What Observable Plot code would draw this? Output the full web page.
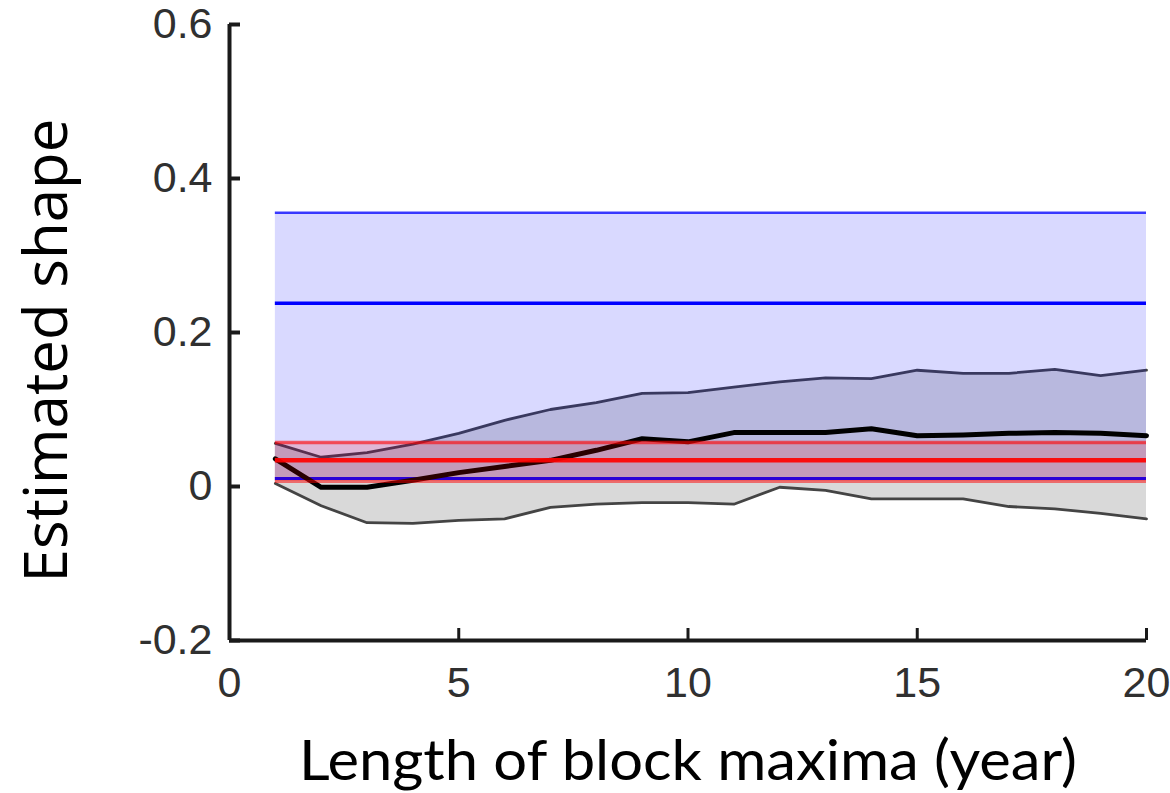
<!DOCTYPE html>
<html><head><meta charset="utf-8">
<script src="https://cdn.jsdelivr.net/npm/d3@7"></script>
<script src="https://cdn.jsdelivr.net/npm/@observablehq/plot@0.6"></script>
<style>body{margin:0;background:#fff;overflow:hidden}</style>
</head><body><div id="chart"></div>
<script>
// Block maxima length (years)
const years    = [1,2,3,4,5,6,7,8,9,10,11,12,13,14,15,16,17,18,19,20];
// Estimated shape parameter
const estimate = [0.036,-0.001,-0.001,0.008,0.018,0.026,0.034,0.047,0.062,0.058,0.070,0.070,0.070,0.075,0.066,0.067,0.069,0.070,0.069,0.066];
// Confidence bounds
const upperCI  = [0.056,0.038,0.044,0.055,0.069,0.086,0.100,0.109,0.121,0.122,0.129,0.136,0.141,0.140,0.151,0.147,0.147,0.152,0.144,0.151];
const lowerCI  = [0.004,-0.025,-0.047,-0.048,-0.044,-0.042,-0.027,-0.023,-0.021,-0.021,-0.023,-0.001,-0.005,-0.016,-0.016,-0.016,-0.026,-0.029,-0.035,-0.042];
// Reference bands (lower, middle, upper)
const bandX      = [1, 20];
const blueLevels = [0.0104, 0.238, 0.3555];
const redLevels  = [0.0065, 0.034, 0.057];
// Axes
const xTicks = [0, 5, 10, 15, 20];
const yTicks = [-0.2, 0, 0.2, 0.4, 0.6];
const yTickLabels = ["-0.2", "0", "0.2", "0.4", "0.6"];
const xTitle = "Length of block maxima (year)";
const yTitle = "Estimated shape";

const rows = years.map((x, i) => ({x, est: estimate[i], lo: lowerCI[i], hi: upperCI[i]}));

const W = 1170, H = 793, mL = 229, mR = 24, mT = 24, mB = 153;
const plotW = W - mL - mR, plotH = H - mT - mB;

const chart = Plot.plot({
  width: W, height: H,
  marginLeft: mL, marginRight: mR, marginTop: mT, marginBottom: mB,
  style: {fontFamily: "Liberation Sans, Arial, sans-serif", fontSize: "43px", color: "#303030", background: "#fff", overflow: "visible"},
  x: {domain: [0, 20], ticks: xTicks, tickSize: 0, tickPadding: 26, label: null},
  y: {domain: [-0.2, 0.6], ticks: yTicks, tickSize: 0, tickPadding: 17, label: null,
      tickFormat: d => yTickLabels[yTicks.indexOf(d)]},
  marks: [
    // gray confidence band
    Plot.areaY(rows, {x: "x", y1: "lo", y2: "hi", fill: "#d9d9d9", curve: "linear"}),
    Plot.line(rows, {x: "x", y: "hi", stroke: "#444", strokeWidth: 2.8}),
    Plot.line(rows, {x: "x", y: "lo", stroke: "#444", strokeWidth: 2.8}),
    // blue band
    Plot.areaY(bandX, {x: d => d, y1: blueLevels[0], y2: blueLevels[2], fill: "blue", fillOpacity: 0.15}),
    Plot.ruleY([blueLevels[2]], {x1: bandX[0], x2: bandX[1], stroke: "blue", strokeOpacity: 0.75, strokeWidth: 2.5}),
    Plot.ruleY([blueLevels[1]], {x1: bandX[0], x2: bandX[1], stroke: "blue", strokeWidth: 3.5}),
    Plot.ruleY([blueLevels[0]], {x1: bandX[0], x2: bandX[1], stroke: "blue", strokeWidth: 3}),
    // estimate
    Plot.line(rows, {x: "x", y: "est", stroke: "#000", strokeWidth: 5}),
    // red band
    Plot.areaY(bandX, {x: d => d, y1: redLevels[0], y2: redLevels[2], fill: "red", fillOpacity: 0.16}),
    Plot.ruleY([redLevels[2]], {x1: bandX[0], x2: bandX[1], stroke: "red", strokeOpacity: 0.6, strokeWidth: 3.5}),
    Plot.ruleY([redLevels[1]], {x1: bandX[0], x2: bandX[1], stroke: "red", strokeOpacity: 0.92, strokeWidth: 4.5}),
    Plot.ruleY([redLevels[0]], {x1: bandX[0], x2: bandX[1], stroke: "red", strokeOpacity: 0.5, strokeWidth: 3}),
    // axis lines and inward ticks
    Plot.ruleX([0], {stroke: "#1a1a1a", strokeWidth: 4}),
    Plot.ruleY([-0.2], {stroke: "#1a1a1a", strokeWidth: 4}),
    Plot.tickY(yTicks, {y: d => d, stroke: "#1a1a1a", strokeWidth: 4, insetRight: plotW - 11}),
    Plot.tickX(xTicks, {x: d => d, stroke: "#1a1a1a", strokeWidth: 3, insetTop: plotH - 12}),
    // titles
    Plot.text([xTitle], {frameAnchor: "bottom", dy: 139, fontFamily: "Lato, Open Sans, sans-serif", fontSize: 57, fill: "#000"}),
    Plot.text([yTitle], {frameAnchor: "left", textAnchor: "middle", lineAnchor: "middle", dx: 47 - mL, dy: 18, rotate: -90, fontFamily: "Open Sans, sans-serif", fontSize: 60, fill: "#000"})
  ]
});
document.getElementById("chart").appendChild(chart);

// fit x title width to the reference length
const svg = document.querySelector("#chart svg");
svg.querySelectorAll("text").forEach(t => {
  if (t.textContent === xTitle) { t.setAttribute("textLength", 778); t.setAttribute("lengthAdjust", "spacingAndGlyphs"); }
});
</script>
</body></html>
